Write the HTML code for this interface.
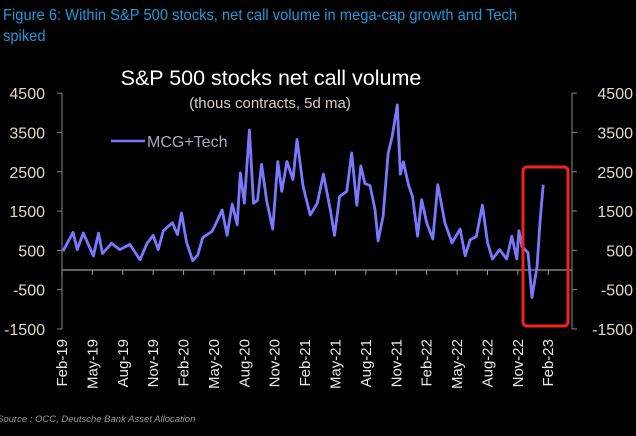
<!DOCTYPE html>
<html><head><meta charset="utf-8"><style>
html,body{margin:0;padding:0;background:#000;}
body{width:636px;height:436px;overflow:hidden;position:relative;font-family:"Liberation Sans",sans-serif;}
#hdr{position:absolute;left:3px;top:5px;width:575px;color:#1e9ad8;font-size:16px;line-height:21px;transform:scaleX(0.92);transform-origin:0 0;}
#src{position:absolute;left:-3px;top:414px;color:#9a9a9a;font-size:9.5px;font-style:italic;}
svg{position:absolute;left:0;top:0;}
</style></head><body>
<div id="hdr">Figure 6: Within S&amp;P 500 stocks, net call volume in mega-cap growth and Tech spiked</div>
<div id="src">Source : OCC, Deutsche Bank Asset Allocation</div>
<svg id="chart" width="636" height="436"></svg>
<script>
const months = [0.1,1.1,1.5,2.1,3.1,3.6,4.0,4.9,5.7,6.7,7.7,8.4,9.0,9.5,10.0,10.9,11.4,11.8,12.3,12.9,13.4,13.9,14.8,15.1,15.8,16.3,16.8,17.3,17.6,18.0,18.5,18.9,19.3,19.7,20.2,20.8,21.3,21.7,22.2,22.8,23.2,23.8,24.5,25.2,25.8,26.5,26.9,27.4,28.1,28.6,29.1,29.5,29.9,30.4,30.9,31.2,31.7,32.2,32.6,33.1,33.4,33.7,34.2,34.6,35.1,35.5,36.0,36.6,37.1,37.8,38.5,39.3,39.8,40.3,40.9,41.5,42.0,42.5,43.2,43.9,44.4,44.9,45.1,45.4,46.0,46.4,46.9,47.2,47.5];
const values = [480,960,520,940,360,940,420,680,520,650,260,680,880,520,1000,1200,900,1450,700,240,380,830,980,1130,1530,880,1680,1150,2470,1700,3560,1700,1770,2690,1770,1040,2760,2000,2760,2300,3320,2130,1400,1700,2440,1520,880,1870,2000,2980,1650,2650,2200,2150,1540,740,1370,2980,3400,4200,2440,2750,2170,1870,860,1790,1200,790,2170,1200,690,1040,360,770,850,1650,700,280,520,280,860,280,1000,600,440,-700,100,1250,2170];
const yTicks = [4500,3500,2500,1500,500,-500,-1500];
const xLabels = ["Feb-19","May-19","Aug-19","Nov-19","Feb-20","May-20","Aug-20","Nov-20","Feb-21","May-21","Aug-21","Nov-21","Feb-22","May-22","Aug-22","Nov-22","Feb-23"];

const NS="http://www.w3.org/2000/svg";
const svg=document.getElementById('chart');
const X0=62,X1=572,PX_PER_MONTH=10.13;
const yScale=v=>270-v*0.0393;
const xScale=m=>X0+m*PX_PER_MONTH;
function mk(tag,attrs,parent){const e=document.createElementNS(NS,tag);for(const k in attrs)e.setAttribute(k,attrs[k]);(parent||svg).appendChild(e);return e;}

let t=mk('text',{x:271,y:85,'text-anchor':'middle',fill:'#fff','font-size':21.5});


t.textContent='S&P 500 stocks net call volume';
t=mk('text',{x:270,y:108,'text-anchor':'middle',fill:'#d8cfc0','font-size':15});


t.textContent='(thous contracts, 5d ma)';

const yTop=yScale(4500),yBot=yScale(-1500);
let a=mk('line',{x1:X0,y1:yTop,x2:X0,y2:yBot,stroke:'#888','stroke-width':1});


a=mk('line',{x1:X1,y1:yTop,x2:X1,y2:yBot,stroke:'#888','stroke-width':1});


a=mk('line',{x1:X0,y1:yScale(0),x2:X1,y2:yScale(0),stroke:'#999','stroke-width':1.2});



yTicks.forEach(v=>{
  const y=yScale(v);
  mk('line',{x1:X0-5,y1:y,x2:X0,y2:y,stroke:'#888'});
  mk('line',{x1:X1,y1:y,x2:X1+5,y2:y,stroke:'#888'});
  let l=mk('text',{x:45,y:y+6,'text-anchor':'end',fill:'#e2d8c8','font-size':16});
  
  
  l.textContent=v;
  let r=mk('text',{x:633,y:y+6,'text-anchor':'end',fill:'#e2d8c8','font-size':16});
  
  
  r.textContent=v;
});
xLabels.forEach((lab,i)=>{
  const x=xScale(i*3);
  mk('line',{x1:x,y1:yScale(0),x2:x,y2:yScale(0)+5,stroke:'#999'});
  let l=mk('text',{x:x+5,y:339,'text-anchor':'end',fill:'#e8e8e8','font-size':15,transform:`rotate(-90 ${x+5} 339)`});
  
  
  l.textContent=lab;
});

const pts=months.map((m,i)=>xScale(m).toFixed(1)+','+yScale(values[i]).toFixed(1)).join(' ');
let p=mk('polyline',{points:pts,fill:'none',stroke:'#7b78ff','stroke-width':2.8,'stroke-linejoin':'round'});



let lg=mk('line',{x1:111,y1:141,x2:145,y2:141,stroke:'#7b78ff','stroke-width':2.6});


lg=mk('text',{x:147,y:147,fill:'#aaa6c4','font-size':16});


lg.textContent='MCG+Tech';

let hb=mk('rect',{x:523,y:167,width:45,height:159,rx:4,fill:'none',stroke:'#f0241c','stroke-width':3});


</script>
</body></html>
